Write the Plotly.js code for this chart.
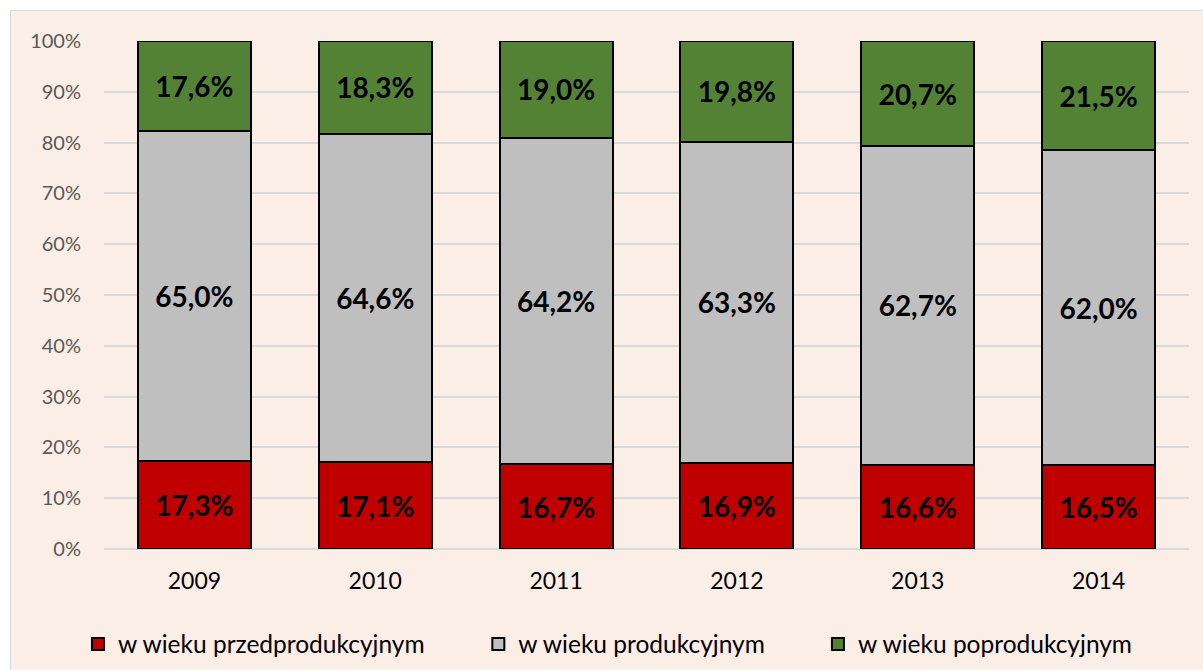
<!DOCTYPE html>
<html>
<head>
<meta charset="utf-8">
<script src="https://cdn.plot.ly/plotly-3.0.1.min.js"></script>
<style>
  html, body { margin: 0; padding: 0; background: #ffffff; width: 1203px; height: 670px; overflow: hidden; }
  #frame { position: absolute; left: 10px; top: 10px; width: 1200px; height: 670px; background: #FBEEE6; border: 1px solid #D9D9D9; box-sizing: border-box; }
  #chart { position: absolute; left: 0; top: 0; width: 1193px; height: 660px; }
</style>
</head>
<body>
<div id="frame"><div id="chart"></div></div>
<script>
const years = ['2009', '2010', '2011', '2012', '2013', '2014'];
const przed = [17.3, 17.1, 16.7, 16.9, 16.6, 16.5];
const prod = [65.0, 64.6, 64.2, 63.3, 62.7, 62.0];
const popro = [17.6, 18.3, 19.0, 19.8, 20.7, 21.5];
const seriesNames = ['w wieku przedprodukcyjnym', 'w wieku produkcyjnym', 'w wieku poprodukcyjnym'];
const colors = ['#C00000', '#BFBFBF', '#548235'];
const legendIds = ['legend', 'legend2', 'legend3'];

const fmt = v => v.toFixed(1).replace('.', ',') + '%';
const FONT = 'Lato, "Open Sans", sans-serif';

const traces = [przed, prod, popro].map((vals, i) => ({
  type: 'bar',
  name: seriesNames[i],
  legend: legendIds[i],
  x: years,
  y: vals,
  text: vals.map(fmt),
  texttemplate: '%{text}',
  textposition: 'inside',
  insidetextanchor: 'middle',
  constraintext: 'none',
  textangle: 0,
  insidetextfont: { family: FONT, size: 28, color: '#000000', weight: 'bold' },
  marker: { color: colors[i], line: { color: '#000000', width: 2 } },
  hoverinfo: 'skip'
}));

const legendBase = {
  orientation: 'h',
  xanchor: 'left',
  y: -0.187,
  yanchor: 'middle',
  font: { family: FONT, size: 24.5, color: '#000000' },
  itemwidth: 30,
  bgcolor: 'rgba(0,0,0,0)'
};

const layout = {
  width: 1193,
  height: 660,
  paper_bgcolor: 'rgba(0,0,0,0)',
  plot_bgcolor: 'rgba(0,0,0,0)',
  barmode: 'stack',
  barnorm: 'percent',
  bargap: 0.375,
  margin: { l: 93, r: 15, t: 30, b: 122, autoexpand: false },
  font: { family: FONT, color: '#595959' },
  xaxis: {
    tickfont: { family: FONT, size: 23, color: '#000000' },
    showgrid: false,
    zeroline: false,
    showline: false,
    ticks: '',
    ticklabelstandoff: 16,
    automargin: false
  },
  yaxis: {
    range: [0, 100],
    tickvals: [0, 10, 20, 30, 40, 50, 60, 70, 80, 90, 100],
    ticktext: ['0%', '10%', '20%', '30%', '40%', '50%', '60%', '70%', '80%', '90%', '100%'],
    tickfont: { family: FONT, size: 20, color: '#595959' },
    showgrid: true,
    gridcolor: '#D9D9D9',
    gridwidth: 2,
    zeroline: true,
    zerolinecolor: '#D9D9D9',
    zerolinewidth: 2,
    showline: false,
    ticks: '',
    ticklabelstandoff: 22,
    automargin: false
  },
  legend: Object.assign({}, legendBase, { x: -0.0240 }),
  legend2: Object.assign({}, legendBase, { x: 0.345 }),
  legend3: Object.assign({}, legendBase, { x: 0.658 }),
  showlegend: true
};

Plotly.newPlot('chart', traces, layout, { displayModeBar: false, staticPlot: true });
</script>
</body>
</html>
